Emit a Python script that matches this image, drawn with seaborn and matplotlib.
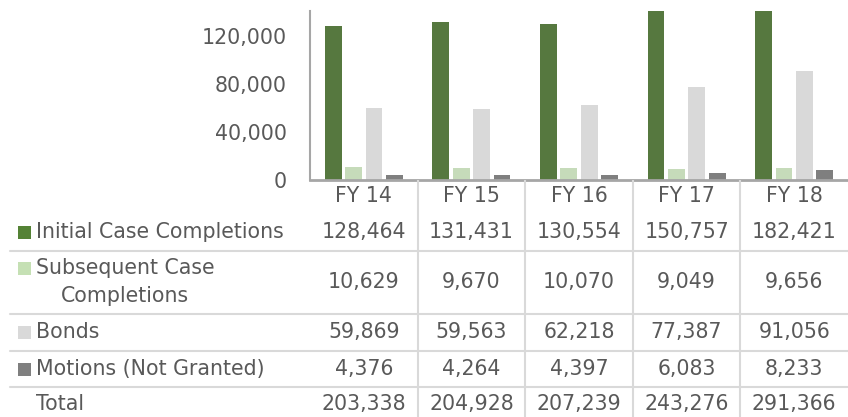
import pandas as pd
import seaborn as sns
import matplotlib.pyplot as plt
from matplotlib.patches import Rectangle
from matplotlib.ticker import FuncFormatter

years = ["FY 14", "FY 15", "FY 16", "FY 17", "FY 18"]
series = ["Initial Case Completions", "Subsequent Case\nCompletions",
          "Bonds", "Motions (Not Granted)"]
initial = [128464, 131431, 130554, 150757, 182421]
subsequent = [10629, 9670, 10070, 9049, 9656]
bonds = [59869, 59563, 62218, 77387, 91056]
motions = [4376, 4264, 4397, 6083, 8233]
colors = ["#548235", "#c5e0b4", "#d9d9d9", "#7f7f7f"]

TXT = "#595959"
GRID = "#d9d9d9"
FS = 14.8

sns.set_theme(style="white")
plt.rcParams["font.family"] = ["DejaVu Sans"]

values = [initial, subsequent, bonds, motions]
df = pd.DataFrame([
    {"year": y, "series": s, "value": v}
    for s, vals in zip(series, values)
    for y, v in zip(years, vals)
])
totals = [sum(col) for col in zip(*values)]

W, H = 848, 417
fig = plt.figure(figsize=(W / 100, H / 100), dpi=100)

# bar chart part (pixel box 310..848 x 11..180)
ax = fig.add_axes([310 / W, (H - 180) / H, 538 / W, 169 / H])
sns.barplot(data=df, x="year", y="value", hue="series", palette=colors,
            width=0.76, gap=0.18, linewidth=0, legend=False, ax=ax)
ax.set_xlim(-0.5, 4.5)
ax.set_ylim(0, 141000)
ax.set_yticks([0, 40000, 80000, 120000])
ax.yaxis.set_major_formatter(FuncFormatter(lambda v, p: f"{int(v):,}"))
ax.tick_params(axis="y", length=0, pad=16.5, labelsize=FS, labelcolor=TXT)
ax.set_xticks([])
ax.set_xlabel("")
ax.set_ylabel("")
for side in ["top", "right"]:
    ax.spines[side].set_visible(False)
ax.spines["left"].set_color("#a6a6a6")
ax.spines["left"].set_linewidth(1.5)
ax.spines["bottom"].set_color("#a6a6a6")
ax.spines["bottom"].set_linewidth(2)

# data table below, in pixel coordinates
tax = fig.add_axes([0, 0, 1, (H - 180) / H])
tax.set_xlim(0, W)
tax.set_ylim(H, 180)
tax.axis("off")

col_w = 538 / len(years)
centers = [310 + col_w * (i + 0.5) for i in range(len(years))]
row_y = [232, 282, 332, 369]
sep_y = [251, 314, 351, 387]

for i in range(1, len(years)):
    tax.plot([310 + col_w * i] * 2, [180, H], color=GRID, lw=1.5)
for y in sep_y:
    tax.plot([10, W], [y, y], color=GRID, lw=1.5)

for x, lab in zip(centers, years):
    tax.text(x, 196, lab, ha="center", va="center", fontsize=FS, color=TXT)

for name, vals, c, y in zip(series, values, colors, row_y):
    first = y - 14 if "\n" in name else y
    tax.add_patch(Rectangle((18, first - 6.5), 13, 13, color=c, lw=0))
    tax.text(36, y, name, ha="left", va="center", fontsize=FS,
             color=TXT, multialignment="center", linespacing=1.5)
    for x, v in zip(centers, vals):
        tax.text(x, y, f"{v:,}", ha="center", va="center", fontsize=FS,
                 color=TXT)

tax.text(36, 404, "Total", ha="left", va="center", fontsize=FS, color=TXT)
for x, v in zip(centers, totals):
    tax.text(x, 404, f"{v:,}", ha="center", va="center", fontsize=FS,
             color=TXT)

fig.savefig("out.png", dpi=100)
